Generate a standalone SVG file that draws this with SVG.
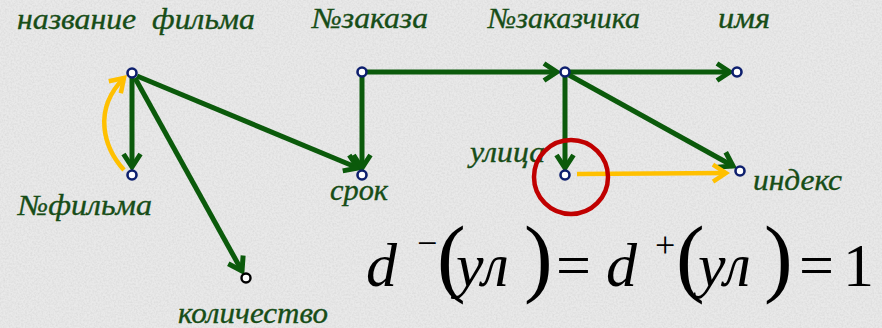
<svg xmlns="http://www.w3.org/2000/svg" width="882" height="328" viewBox="0 0 882 328">
<defs>
<filter id="noise" x="0" y="0" width="100%" height="100%">
<feTurbulence type="fractalNoise" baseFrequency="0.55" numOctaves="2" seed="3" result="t"/>
<feColorMatrix type="matrix" values="0 0 0 0 0.55  0 0 0 0 0.55  0 0 0 0 0.55  0 0 0 -1.6 1.05"/>
</filter>
<marker id="ag" markerUnits="userSpaceOnUse" viewBox="-18 -12 22 24" markerWidth="22" markerHeight="24" refX="0" refY="0" orient="auto">
<path d="M-13,-8.5 L0,0 L-13,8.5" fill="none" stroke="#0b5a0b" stroke-width="5" stroke-linejoin="miter"/>
</marker>
<marker id="ay" markerUnits="userSpaceOnUse" viewBox="-18 -12 22 24" markerWidth="22" markerHeight="24" refX="0" refY="0" orient="auto">
<path d="M-13,-8.5 L0,0 L-13,8.5" fill="none" stroke="#ffc000" stroke-width="4.5" stroke-linejoin="miter"/>
</marker>
<style>
.g{stroke:#0b5a0b;stroke-width:5;fill:none;marker-end:url(#ag)}
.y{stroke:#ffc000;stroke-width:4.5;fill:none;marker-end:url(#ay)}
.n{fill:#fff;stroke:#0d1f6e;stroke-width:2.6}
.lbl{fill:#174d17;stroke:#174d17;stroke-width:0.35}
</style>
</defs>
<rect width="882" height="328" fill="#e9e9e9"/>
<rect width="882" height="328" filter="url(#noise)" opacity="0.4"/>
<g id="connectors">
<line class="g" x1="132" y1="78" x2="132" y2="167"/>
<line class="g" x1="137" y1="76" x2="358" y2="168"/>
<line class="g" x1="135" y1="78" x2="242" y2="271"/>
<line class="g" x1="362" y1="76" x2="362" y2="168"/>
<line class="g" x1="367" y1="72" x2="557" y2="72"/>
<line class="g" x1="570" y1="72" x2="730" y2="72"/>
<line class="g" x1="565" y1="77" x2="565" y2="168"/>
<line class="g" x1="569" y1="75" x2="733" y2="166"/>
<path class="y" d="M124,170 C104,148 92,110 124,78"/>
<line class="y" x1="577" y1="174" x2="726" y2="173"/>
</g>
<g id="nodes" font-family="Liberation Serif, Times New Roman, serif" font-style="italic" font-size="29">
<g id="node-nazvanie"><circle class="n" cx="132" cy="73" r="4.5"/><text class="lbl" x="17" y="29" textLength="238" lengthAdjust="spacingAndGlyphs" xml:space="preserve">название  фильма</text></g>
<g id="node-nfilma"><circle class="n" cx="132" cy="175" r="4.5"/><text class="lbl" x="18" y="215" textLength="134" lengthAdjust="spacingAndGlyphs">№фильма</text></g>
<g id="node-kolichestvo"><circle cx="246" cy="278" r="4.5" fill="#fff" stroke="#000" stroke-width="2.4"/><text class="lbl" x="178" y="323" textLength="150" lengthAdjust="spacingAndGlyphs">количество</text></g>
<g id="node-nzakaza"><circle class="n" cx="362" cy="72" r="4.5"/><text class="lbl" x="312" y="28" textLength="116" lengthAdjust="spacingAndGlyphs">№заказа</text></g>
<g id="node-srok"><circle class="n" cx="362" cy="175" r="4.5"/><text class="lbl" x="330" y="200" textLength="58" lengthAdjust="spacingAndGlyphs">срок</text></g>
<g id="node-nzakazchika"><circle class="n" cx="565" cy="72" r="4.5"/><text class="lbl" x="488" y="28" textLength="152" lengthAdjust="spacingAndGlyphs">№заказчика</text></g>
<g id="node-imya"><circle class="n" cx="737" cy="72" r="4.5"/><text class="lbl" x="718" y="28" textLength="52" lengthAdjust="spacingAndGlyphs">имя</text></g>
<g id="node-ulica"><circle class="n" cx="565" cy="175" r="4.5"/><text class="lbl" x="470" y="162" textLength="75" lengthAdjust="spacingAndGlyphs">улица</text></g>
<g id="node-indeks"><circle class="n" cx="740" cy="171" r="4.5"/><text class="lbl" x="753" y="190" textLength="89" lengthAdjust="spacingAndGlyphs">индекс</text></g>
</g>
<circle cx="571" cy="177" r="37" fill="none" stroke="#c00000" stroke-width="4.5"/>
<g id="formula" font-family="Liberation Serif, Times New Roman, serif" font-size="62" fill="#000">
<text x="366" y="286" font-style="italic">d</text>
<text x="417" y="255" font-size="36">−</text>
<text x="437" y="286" font-size="86">(</text>
<text x="456" y="286" font-style="italic">ул</text>
<text x="524" y="286" font-size="86">)</text>
<text x="556" y="286">=</text>
<text x="606" y="286" font-style="italic">d</text>
<text x="655" y="257" font-size="36">+</text>
<text x="676" y="286" font-size="86">(</text>
<text x="698" y="286" font-style="italic">ул</text>
<text x="764" y="286" font-size="86">)</text>
<text x="799" y="286">=</text>
<text x="843" y="286">1</text>
</g>
</svg>
